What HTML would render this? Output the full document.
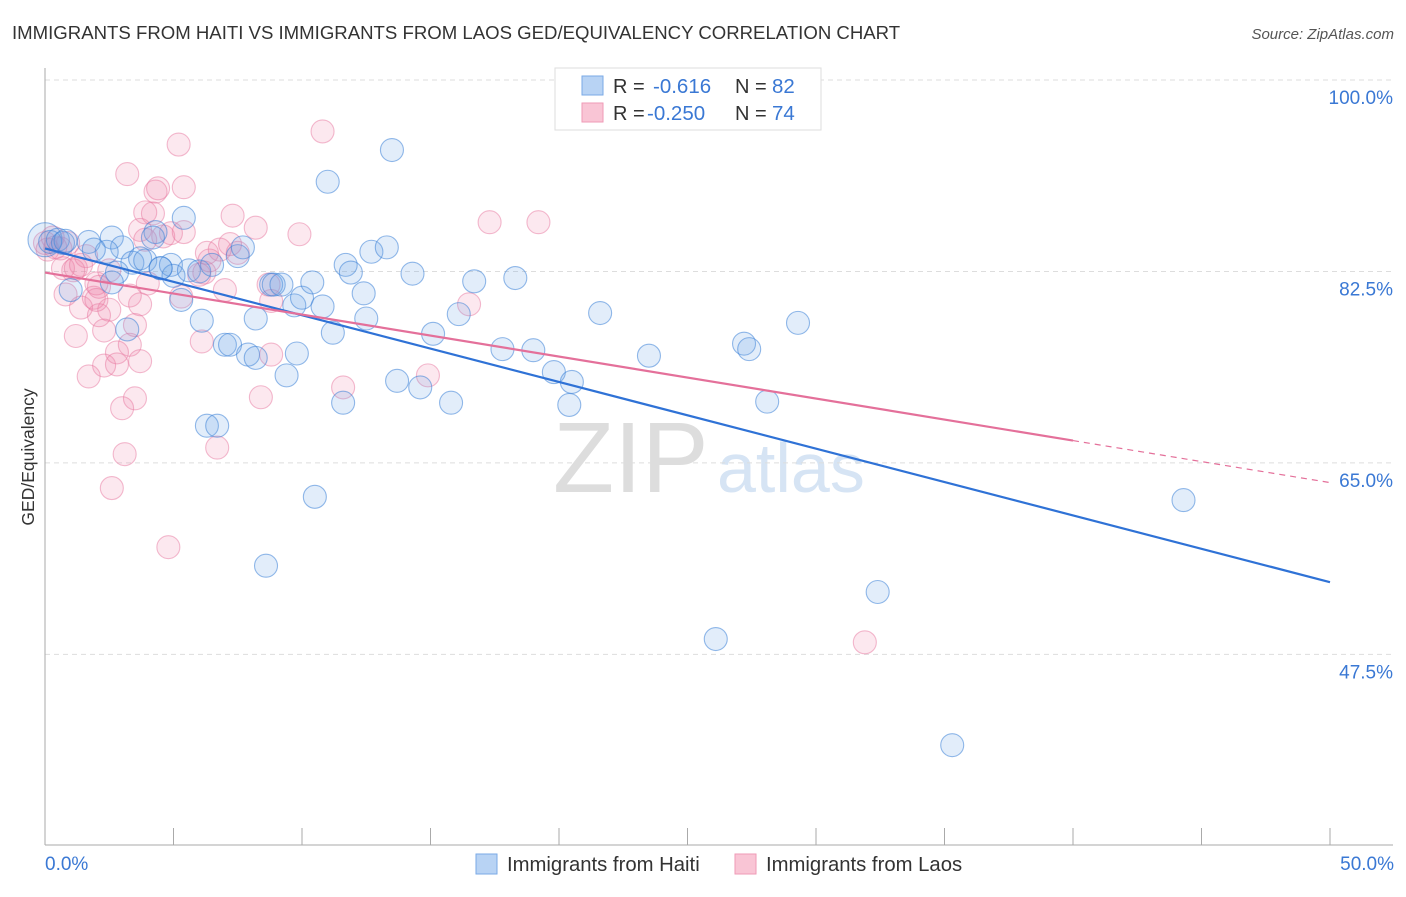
<!DOCTYPE html>
<html><head><meta charset="utf-8"><style>
body{margin:0;background:#fff;font-family:"Liberation Sans",sans-serif}
svg text{font-family:"Liberation Sans",sans-serif}
</style></head><body>
<svg id="chart" width="1406" height="892" xmlns="http://www.w3.org/2000/svg">
<text x="12" y="39" font-size="18.6" fill="#333">IMMIGRANTS FROM HAITI VS IMMIGRANTS FROM LAOS GED/EQUIVALENCY CORRELATION CHART</text>
<text x="1394" y="39" font-size="15" fill="#555" text-anchor="end" font-style="italic">Source: ZipAtlas.com</text>
<g>
<text x="553" y="492" font-size="100" fill="#ddd" font-family="Liberation Serif,serif">ZIP</text>
<text x="717" y="492" font-size="70" fill="#d6e4f4">atlas</text>
</g>
<g id="grid"></g>
<g id="axes"></g>
<g id="pts"></g>
<g id="trends"></g>
<text transform="translate(34,457) rotate(-90)" text-anchor="middle" font-size="17.5" fill="#333">GED/Equivalency</text>
<text x="45" y="870" font-size="19" fill="#3a78d4">0.0%</text>
<text x="1394" y="870" font-size="19" fill="#3a78d4" text-anchor="end">50.0%</text>
<g>
<rect x="555" y="68" width="266" height="62" fill="#fff" stroke="#ddd"/>
<rect x="582" y="76" width="21" height="19" fill="#b8d3f4" stroke="#7aaae6"/>
<rect x="582" y="103" width="21" height="19" fill="#f9c5d5" stroke="#ef9ab6"/>
<text x="613" y="93" font-size="20" fill="#333">R = </text><text x="653" y="93" font-size="20.5" fill="#3a78d4">-0.616</text>
<text x="735" y="93" font-size="20" fill="#333">N = </text><text x="772" y="93" font-size="20.5" fill="#3a78d4">82</text>
<text x="613" y="120" font-size="20" fill="#333">R = </text><text x="647" y="120" font-size="20.5" fill="#3a78d4">-0.250</text>
<text x="735" y="120" font-size="20" fill="#333">N = </text><text x="772" y="120" font-size="20.5" fill="#3a78d4">74</text>
</g>
<g>
<rect x="476" y="854" width="21" height="20" fill="#b8d3f4" stroke="#7aaae6"/>
<text x="507" y="871" font-size="20.3" fill="#333">Immigrants from Haiti</text>
<rect x="735" y="854" width="21" height="20" fill="#f9c5d5" stroke="#ef9ab6"/>
<text x="766" y="871" font-size="20.3" fill="#333">Immigrants from Laos</text>
</g>
</svg>
<script>
const yTicks=[100,82.5,65,47.5];
const yTickLabels=["100.0%","82.5%","65.0%","47.5%"];
const xTicks=[0,5,10,15,20,25,30,35,40,45,50];
const haitiX=[0,0.2,0.5,0.7,1.7,2.6,3.0,2.4,1.9,3.4,3.7,3.9,2.8,2.6,1.0,4.3,4.2,4.5,4.9,5.0,5.4,5.3,5.6,6.0,6.5,6.1,6.3,6.7,7.0,7.2,7.5,7.7,7.9,8.2,8.2,8.6,8.8,8.9,9.2,9.4,9.7,10.0,9.8,10.4,10.5,10.8,11.0,11.2,11.6,11.7,11.9,12.4,12.5,12.7,13.3,13.5,13.7,14.3,14.6,15.1,15.8,16.1,16.7,17.8,18.3,19.0,19.8,20.4,20.5,21.6,23.5,26.1,27.2,27.4,28.1,29.3,32.4,35.3,44.3,3.2,4.5,0.8];
const haitiY=[85.4,85.2,85.4,85.1,85.2,85.6,84.7,84.3,84.5,83.3,83.7,83.5,82.4,81.5,80.8,86.1,85.6,82.8,83.1,82.1,87.4,79.9,82.6,82.5,83.1,78.0,68.4,68.4,75.8,75.8,83.9,84.7,74.9,74.6,78.2,55.6,81.3,81.3,81.3,73.0,79.4,80.1,75.0,81.5,61.9,79.3,90.7,76.9,70.5,83.1,82.4,80.5,78.2,84.3,84.7,93.6,72.5,82.3,71.9,76.8,70.5,78.6,81.6,75.4,81.9,75.3,73.3,70.3,72.4,78.7,74.8,48.9,75.9,75.4,70.6,77.8,53.2,39.2,61.6,77.2,82.8,85.3];
const laosX=[0,0.1,0.3,0.4,0.6,0.9,0.8,0.7,1.1,1.2,1.4,1.2,1.4,1.6,1.7,1.9,2.0,2.1,2.1,2.3,2.3,2.5,2.6,2.8,2.8,3.0,3.1,3.2,3.3,3.3,3.5,3.5,3.7,3.7,3.9,3.9,4.0,4.2,4.3,4.4,4.6,4.8,4.9,5.2,5.3,5.4,5.4,6.0,6.2,6.1,6.3,6.7,6.8,7.0,7.2,7.3,7.5,8.2,8.4,8.7,8.8,8.8,9.9,10.8,11.6,14.9,16.5,17.3,19.2,31.9,6.4,2.5,2.0,3.7];
const laosY=[85.1,84.5,85.6,84.7,84.6,85.1,80.4,82.8,82.6,76.6,79.2,82.8,83.1,83.9,72.9,80.1,81.4,81.1,78.5,77.1,73.9,79.0,62.7,75.1,74.0,70.0,65.8,91.4,80.3,75.8,70.9,77.6,74.3,79.5,87.9,85.4,81.4,87.8,89.8,90.1,85.7,57.3,86.0,94.1,80.2,90.2,86.1,82.2,82.4,76.1,84.2,66.4,84.5,80.8,85.0,87.6,84.2,86.5,71.0,81.3,74.9,79.8,85.9,95.3,71.9,73.0,79.5,87.0,87.0,48.6,83.5,82.6,79.9,86.3];
const haitiTrend=[84.6,54.1];
const laosTrend=[82.4,63.2];
const laosTrendSolidEnd=40;
const X=v=>45+v/50*1285;
const Y=v=>80+(100-v)*10.94;
const NS="http://www.w3.org/2000/svg";
function mk(tag,attrs,parent){const e=document.createElementNS(NS,tag);for(const k in attrs)e.setAttribute(k,attrs[k]);parent.appendChild(e);return e;}
const grid=document.getElementById('grid'),axes=document.getElementById('axes');
yTicks.forEach((t,i)=>{
 const l=mk('line',{x1:45,x2:1393,y1:Y(t),y2:Y(t),stroke:'#ddd','stroke-dasharray':'5,4'},grid);
 
 
 const tx=mk('text',{x:1393,y:Y(t)+24,'font-size':19,fill:'#3a78d4','text-anchor':'end'},grid);
 tx.textContent=yTickLabels[i];
 
 
});
const ya=mk('line',{x1:45,x2:45,y1:68,y2:845,stroke:'#aaa'},axes);


const xa=mk('line',{x1:45,x2:1393,y1:845,y2:845,stroke:'#aaa'},axes);


xTicks.forEach(t=>{const l=mk('line',{x1:X(t),x2:X(t),y1:828,y2:845,stroke:'#aaa'},axes);
 
 });
const pts=document.getElementById('pts');
function series(xs,ys,fill,stroke,name){xs.forEach((x,i)=>{
 const c=mk('circle',{cx:X(x),cy:Y(ys[i]),r:(i===0&&name==='haiti-point')?17:11.5,fill:fill,stroke:stroke,'stroke-width':1.1},pts);
 
 
});}
series(laosX,laosY,'rgba(240,130,165,0.18)','rgba(232,120,160,0.5)','laos-point');
series(haitiX,haitiY,'rgba(110,165,230,0.2)','rgba(60,130,215,0.55)','haiti-point');
const tr=document.getElementById('trends');
const b=mk('line',{x1:X(0),y1:Y(haitiTrend[0]),x2:X(50),y2:Y(haitiTrend[1]),stroke:'#2f72d6','stroke-width':2.2},tr);


const ly=v=>laosTrend[0]+(laosTrend[1]-laosTrend[0])*v/50;
const p=mk('line',{x1:X(0),y1:Y(ly(0)),x2:X(laosTrendSolidEnd),y2:Y(ly(laosTrendSolidEnd)),stroke:'#e4709a','stroke-width':2.2},tr);


const pd=mk('line',{x1:X(laosTrendSolidEnd),y1:Y(ly(laosTrendSolidEnd)),x2:X(50),y2:Y(ly(50)),stroke:'#e4709a','stroke-width':1.2,'stroke-dasharray':'6,5'},tr);


</script>
</body></html>
